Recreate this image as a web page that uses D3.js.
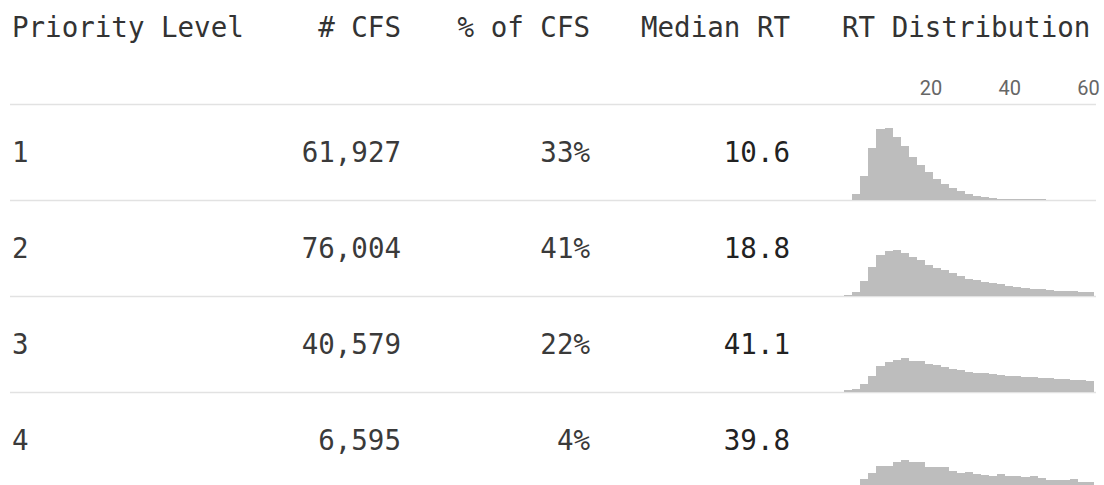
<!DOCTYPE html>
<html>
<head>
<meta charset="utf-8">
<script src="https://cdn.jsdelivr.net/npm/d3@7"></script>
<style>
  html, body { margin: 0; padding: 0; background: #fff; }
  svg { display: block; }
</style>
</head>
<body>
<div id="chart"></div>
<script>
// table data
const priorities = ["1", "2", "3", "4"];
const cfsCounts = [61927, 76004, 40579, 6595];
const cfsShares = [0.33, 0.41, 0.22, 0.04];
const medianRT = [10.6, 18.8, 41.1, 39.8];

// histogram bins (minutes), 2-minute wide, left edges
const binStarts = [-2, 0, 2, 4, 6, 8, 10, 12, 14, 16, 18, 20, 22, 24, 26, 28,
  30, 32, 34, 36, 38, 40, 42, 44, 46, 48, 50, 52, 54, 56, 58];
const binWidth = 2;
const distTicks = [20, 40, 60];

// share of calls per bin (%)
const distP1 = [0, 1.1, 4.5, 9.9, 13.6, 13.8, 12.1, 10.3, 8.2, 6.6, 5.3, 4.0, 3.1, 2.3, 1.6,
  1.1, 0.8, 0.5, 0.33, 0.25, 0.19, 0.13, 0.1, 0.08, 0.06, 0.04, 0, 0, 0, 0, 0];
const distP2 = [0.2, 0.7, 2.9, 5.6, 7.9, 8.7, 8.8, 8.2, 7.4, 6.8, 5.9, 5.3, 4.9, 4.4, 3.8,
  3.3, 3.0, 2.7, 2.4, 2.2, 1.9, 1.7, 1.5, 1.4, 1.3, 1.15, 1.0, 0.96, 0.83, 0.77, 0.71];
const distP3 = [0.33, 0.6, 1.5, 3.1, 4.9, 5.8, 6.2, 6.5, 6.0, 5.9, 5.4, 5.1, 4.75, 4.3, 4.1,
  3.9, 3.7, 3.6, 3.4, 3.3, 3.1, 3.0, 2.9, 2.8, 2.7, 2.6, 2.5, 2.45, 2.3, 2.2, 2.1];
const distP4 = [0, 0.5, 1.7, 2.9, 4.2, 4.2, 4.9, 5.4, 5.0, 5.0, 4.0, 4.0, 4.0, 3.3, 2.9,
  3.1, 2.75, 2.55, 2.25, 2.75, 2.25, 2.25, 2.1, 2.3, 1.9, 1.5, 1.5, 1.5, 1.6, 1.1, 1.15];
const distributions = [distP1, distP2, distP3, distP4];

const headers = ["Priority Level", "# CFS", "% of CFS", "Median RT", "RT Distribution"];

const width = 1104;
const height = 485;
const headerH = 104;
const rowH = 96;
const mono = "'DejaVu Sans Mono', 'Liberation Mono', monospace";

// column anchors
const colX = [12, 401, 590, 790, 842];
const colAnchor = ["start", "end", "end", "end", "start"];

const svg = d3
  .select("#chart")
  .append("svg")
  .attr("width", width)
  .attr("height", height);

// header
svg
  .append("g")
  .selectAll("text")
  .data(headers)
  .join("text")
  .attr("x", (d, i) => colX[i])
  .attr("y", 37)
  .attr("text-anchor", (d, i) => colAnchor[i])
  .attr("fill", "#333")
  .style("font-family", mono)
  .style("font-size", "27.5px")
  .text((d) => d);

// histogram scales
const x = d3.scaleLinear().domain([0, 60]).range([852.3, 1094]);
const y = d3.scaleLinear().domain([0, 14]).range([0, 72.8]);
// tick labels sit a little inside the column edge
const xTick = d3.scaleLinear().domain([0, 60]).range([852.3, 1088.5]);

// tick labels for distribution column
svg
  .append("g")
  .selectAll("text")
  .data(distTicks)
  .join("text")
  .attr("x", (d) => xTick(d))
  .attr("y", 95)
  .attr("text-anchor", "middle")
  .attr("fill", "#666")
  .style("font-family", "Roboto, sans-serif")
  .style("font-size", "20px")
  .text((d) => d);

// separators
svg
  .append("g")
  .selectAll("line")
  .data(d3.range(priorities.length))
  .join("line")
  .attr("x1", 10)
  .attr("x2", 1096)
  .attr("y1", (i) => headerH + i * rowH + 0.5)
  .attr("y2", (i) => headerH + i * rowH + 0.5)
  .attr("stroke", "#e2e2e2")
  .attr("stroke-width", 1.5);

const fmtCount = d3.format(",");
const fmtPct = d3.format(".0%");
const fmtMed = d3.format(".1f");

const rows = svg
  .append("g")
  .selectAll("g.row")
  .data(priorities)
  .join("g")
  .attr("class", "row")
  .attr("transform", (d, i) => `translate(0,${headerH + i * rowH})`);

rows.each(function (p, i) {
  const g = d3.select(this);
  const cells = [p, fmtCount(cfsCounts[i]), fmtPct(cfsShares[i]), fmtMed(medianRT[i])];
  g.selectAll("text")
    .data(cells)
    .join("text")
    .attr("x", (d, j) => colX[j])
    .attr("y", 58)
    .attr("text-anchor", (d, j) => colAnchor[j])
    .attr("fill", (d, j) => (j === 3 ? "#222" : "#3a3a3a"))
    .style("font-family", mono)
    .style("font-size", "27.5px")
    .style("font-weight", (d, j) => (j === 3 ? 500 : 400))
    .text((d) => d);

  const base = rowH - 0.2;
  g.selectAll("rect")
    .data(distributions[i].map((v, k) => ({ x0: binStarts[k], v })))
    .join("rect")
    .attr("x", (d) => x(d.x0))
    .attr("width", (d) => x(d.x0 + binWidth) - x(d.x0))
    .attr("y", (d) => base - y(d.v))
    .attr("height", (d) => y(d.v))
    .attr("fill", "#bdbdbd")
    .attr("shape-rendering", "crispEdges");
});
</script>
</body>
</html>
